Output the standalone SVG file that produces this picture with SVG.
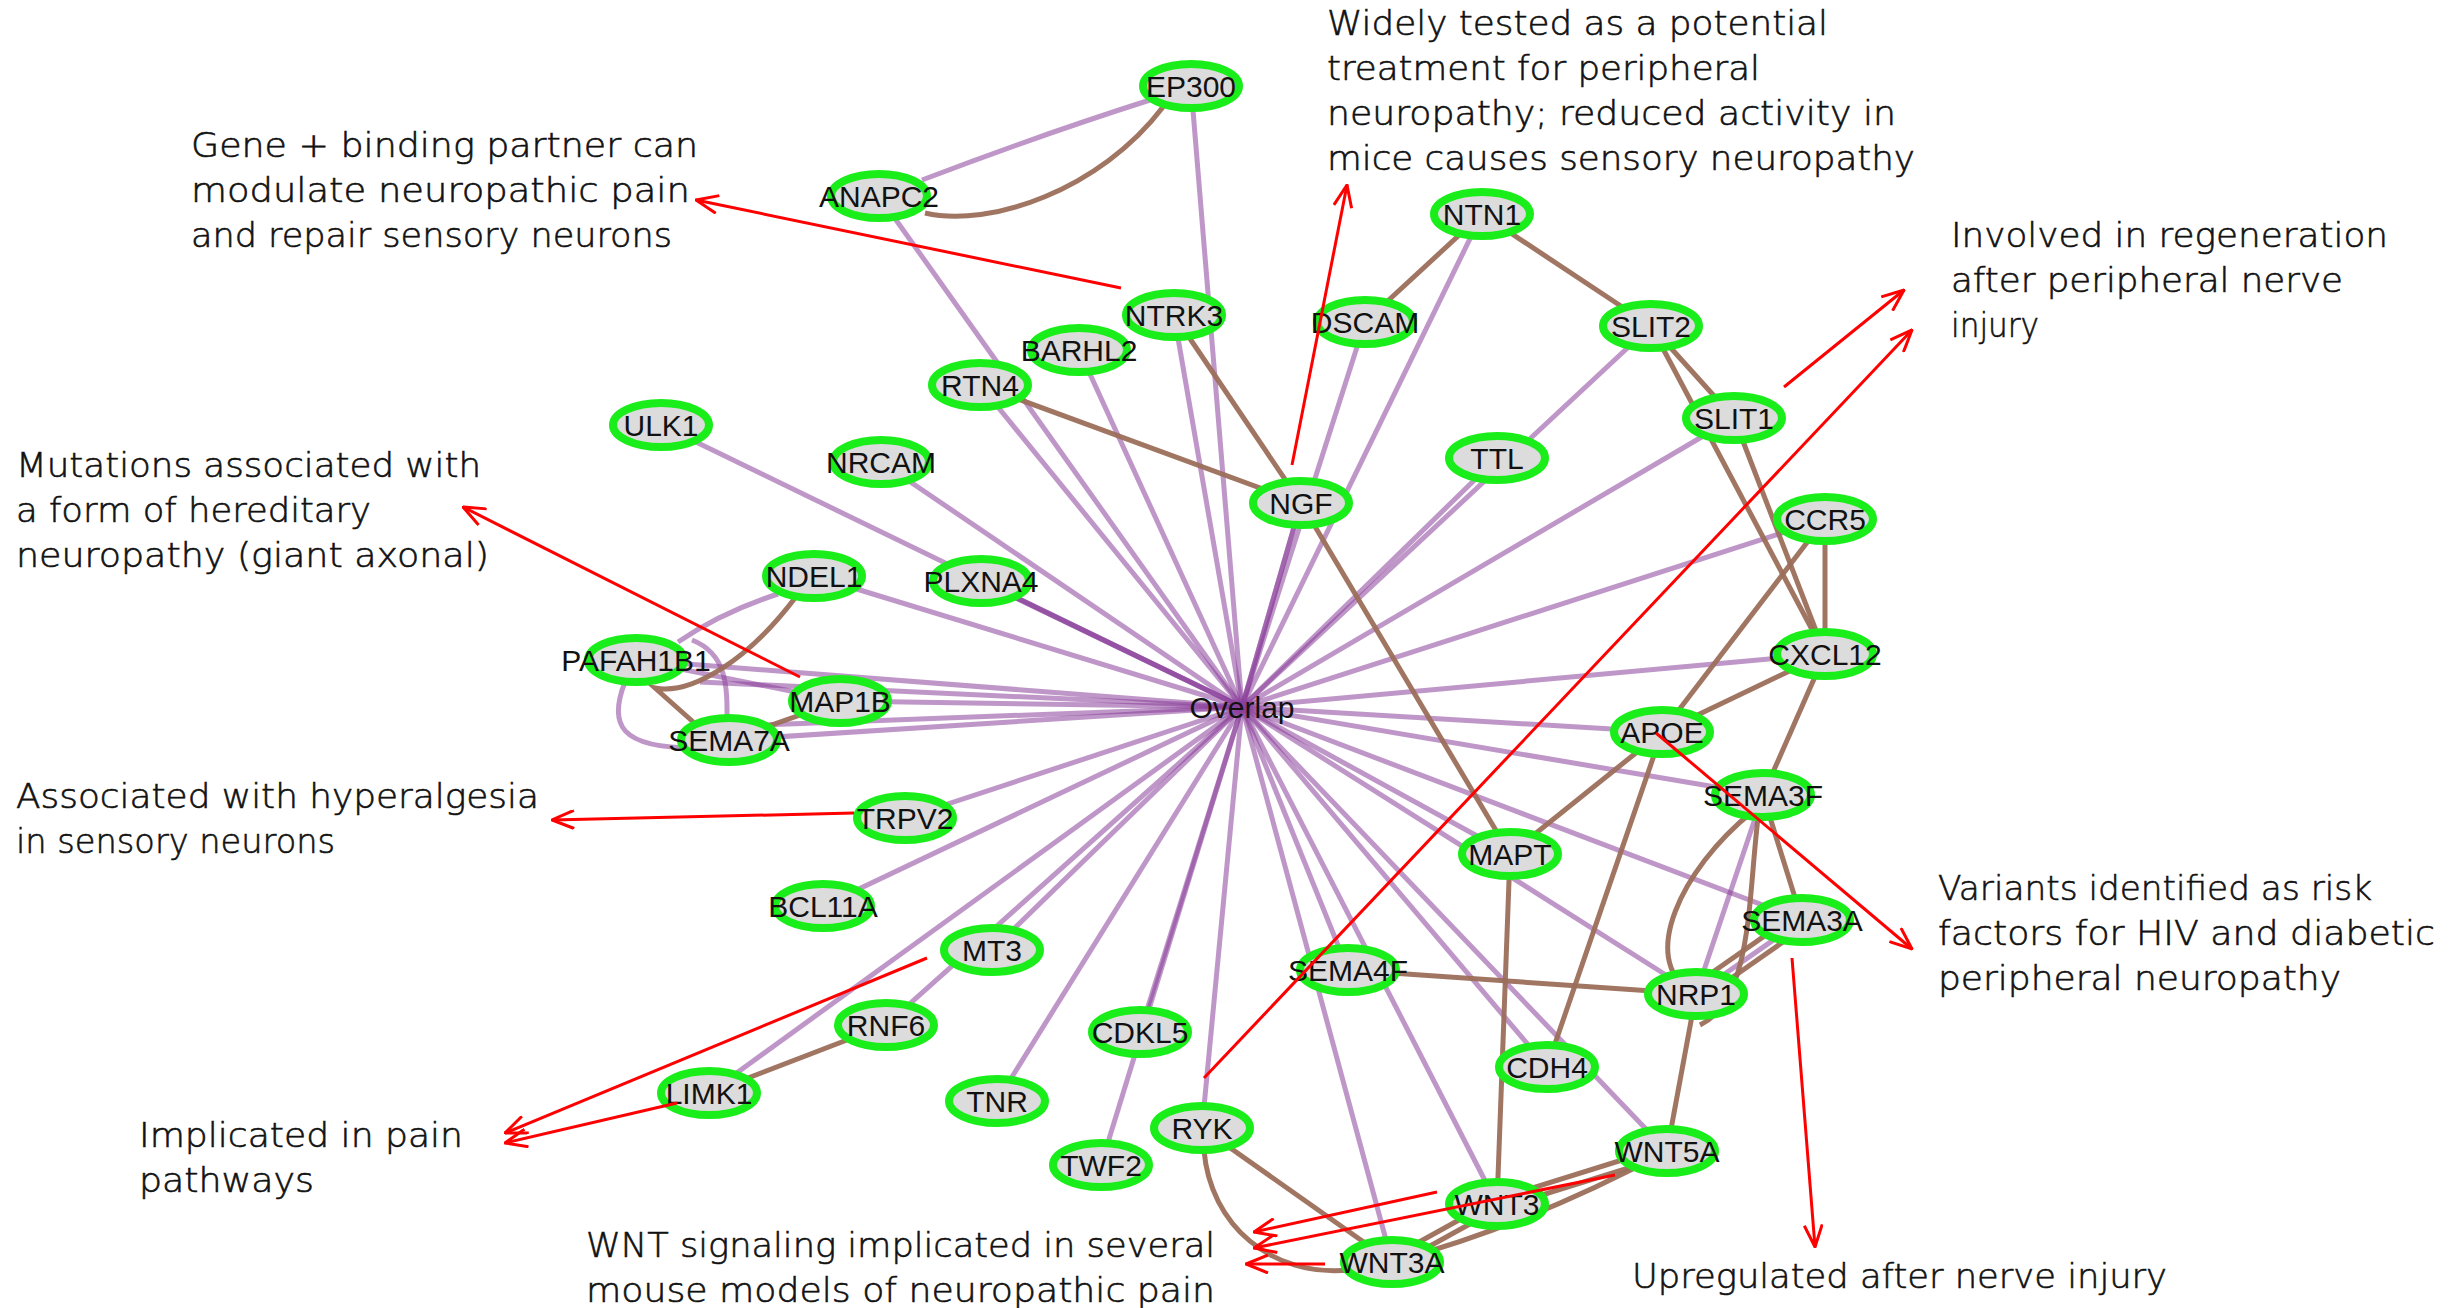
<svg xmlns="http://www.w3.org/2000/svg" width="2458" height="1308" viewBox="0 0 2458 1308">
<style>
.p{stroke:#8a3f9b;stroke-opacity:0.55;stroke-width:5;fill:none}
.b{stroke:#9b6e5a;stroke-opacity:0.95;stroke-width:5;fill:none}
.node ellipse{fill:#dcdcdc;stroke:#1aee1a;stroke-width:8}
.node text{font-family:"Liberation Sans",Arial,sans-serif;font-size:30px;fill:#111;text-anchor:middle}
.ov{font-family:"Liberation Sans",Arial,sans-serif;font-size:30px;fill:#111;text-anchor:middle}
.ann{font-family:"DejaVu Sans","Liberation Sans",sans-serif;font-weight:200;font-size:34px;fill:#111;stroke:#111;stroke-width:0.6}
.r{stroke:#ff0000;stroke-width:3;fill:none;marker-end:url(#ah)}
</style>
<defs>
<marker id="ah" viewBox="0 0 24 20" refX="23" refY="10" markerWidth="24" markerHeight="20" markerUnits="userSpaceOnUse" orient="auto">
<path d="M1,1 L23,10 L1,19" fill="none" stroke="#ff0000" stroke-width="3"/>
</marker>
</defs>
<rect width="2458" height="1308" fill="#ffffff"/>
<g id="connectors">
<g id="overlap-edges">
<line class="p" x1="1242" y1="707" x2="1191" y2="86"/>
<line class="p" x1="1242" y1="707" x2="879" y2="196"/>
<line class="p" x1="1242" y1="707" x2="1174" y2="315"/>
<line class="p" x1="1242" y1="707" x2="1079" y2="350"/>
<line class="p" x1="1242" y1="707" x2="980" y2="385"/>
<line class="p" x1="1242" y1="707" x2="1365" y2="322"/>
<line class="p" x1="1242" y1="707" x2="1482" y2="214"/>
<line class="p" x1="1242" y1="707" x2="1651" y2="326"/>
<line class="p" x1="1242" y1="707" x2="1497" y2="458"/>
<line class="p" x1="1242" y1="707" x2="1734" y2="418"/>
<line class="p" x1="1242" y1="707" x2="1825" y2="519"/>
<line class="p" x1="1242" y1="707" x2="1825" y2="654"/>
<line class="p" x1="1242" y1="707" x2="1662" y2="732"/>
<line class="p" x1="1242" y1="707" x2="1763" y2="795"/>
<line class="p" x1="1242" y1="707" x2="1802" y2="920"/>
<line class="p" x1="1242" y1="707" x2="1696" y2="994"/>
<line class="p" x1="1242" y1="707" x2="1667" y2="1151"/>
<line class="p" x1="1242" y1="707" x2="1547" y2="1067"/>
<line class="p" x1="1242" y1="707" x2="1497" y2="1204"/>
<line class="p" x1="1242" y1="707" x2="1392" y2="1262"/>
<line class="p" x1="1242" y1="707" x2="1348" y2="970"/>
<line class="p" x1="1242" y1="707" x2="1510" y2="854"/>
<line class="p" x1="1242" y1="707" x2="1202" y2="1128"/>
<line class="p" x1="1242" y1="707" x2="1140" y2="1032"/>
<line class="p" x1="1242" y1="707" x2="1101" y2="1165"/>
<line class="p" x1="1242" y1="707" x2="997" y2="1101"/>
<line class="p" x1="1242" y1="707" x2="886" y2="1025"/>
<line class="p" x1="1242" y1="707" x2="992" y2="950"/>
<line class="p" x1="1242" y1="707" x2="709" y2="1093"/>
<line class="p" x1="1242" y1="707" x2="823" y2="906"/>
<line class="p" x1="1242" y1="707" x2="905" y2="818"/>
<line class="p" x1="1242" y1="707" x2="729" y2="740"/>
<line class="p" x1="1242" y1="707" x2="760" y2="725"/>
<line class="p" x1="1242" y1="707" x2="840" y2="701"/>
<line class="p" x1="1242" y1="707" x2="700" y2="682"/>
<line class="p" x1="1242" y1="707" x2="636" y2="660"/>
<line class="p" x1="1242" y1="707" x2="814" y2="576"/>
<line class="p" x1="1242" y1="707" x2="981" y2="581"/>
<line class="p" x1="1242" y1="707" x2="981" y2="581"/>
<line class="p" x1="1242" y1="707" x2="881" y2="462"/>
<line class="p" x1="1242" y1="707" x2="661" y2="425"/>
<line class="p" x1="1242" y1="707" x2="1301" y2="503"/>
<line class="p" x1="1242" y1="707" x2="1301" y2="503"/>
</g>
<g id="gene-edges-purple">
<path class="p" d="M922 180 Q1040 135 1150 100"/>
<path class="p" d="M778 594 Q722 612 678 642"/>
<line class="p" x1="636" y1="660" x2="840" y2="701"/>
<path class="p" d="M625 682 C608 725 620 748 695 748"/>
<path class="p" d="M692 640 C730 655 727 692 727 728"/>
<line class="p" x1="1763" y1="795" x2="1696" y2="994"/>
<line class="p" x1="1802" y1="920" x2="1696" y2="994"/>
</g>
<g id="gene-edges-brown">
<path class="b" d="M925 213 C990 228 1100 190 1163 107"/>
<line class="b" x1="1174" y1="315" x2="1301" y2="503"/>
<line class="b" x1="980" y1="385" x2="1301" y2="503"/>
<line class="b" x1="1482" y1="214" x2="1365" y2="322"/>
<line class="b" x1="1482" y1="214" x2="1651" y2="326"/>
<line class="b" x1="1651" y1="326" x2="1734" y2="418"/>
<line class="b" x1="1651" y1="326" x2="1825" y2="654"/>
<line class="b" x1="1734" y1="418" x2="1825" y2="654"/>
<line class="b" x1="1825" y1="519" x2="1825" y2="654"/>
<line class="b" x1="1825" y1="519" x2="1662" y2="732"/>
<line class="b" x1="1825" y1="654" x2="1662" y2="732"/>
<line class="b" x1="1825" y1="654" x2="1763" y2="795"/>
<line class="b" x1="1662" y1="732" x2="1510" y2="854"/>
<line class="b" x1="1662" y1="732" x2="1547" y2="1067"/>
<line class="b" x1="1301" y1="503" x2="1510" y2="854"/>
<line class="b" x1="1510" y1="854" x2="1497" y2="1204"/>
<line class="b" x1="1348" y1="970" x2="1696" y2="994"/>
<path class="b" d="M1752 812 C1680 870 1640 960 1690 990"/>
<path class="b" d="M1758 818 C1748 900 1752 1000 1700 1025"/>
<line class="b" x1="1763" y1="795" x2="1802" y2="920"/>
<line class="b" x1="1806" y1="926" x2="1700" y2="1000"/>
<line class="b" x1="1796" y1="914" x2="1690" y2="988"/>
<line class="b" x1="1696" y1="994" x2="1667" y2="1151"/>
<line class="b" x1="1667" y1="1146" x2="1497" y2="1199"/>
<line class="b" x1="1667" y1="1156" x2="1497" y2="1209"/>
<path class="b" d="M1667 1151 Q1530 1225 1392 1262"/>
<line class="b" x1="1497" y1="1199" x2="1392" y2="1257"/>
<line class="b" x1="1497" y1="1209" x2="1392" y2="1267"/>
<line class="b" x1="1202" y1="1128" x2="1392" y2="1262"/>
<path class="b" d="M1204 1150 C1210 1225 1272 1278 1350 1270"/>
<line class="b" x1="709" y1="1093" x2="886" y2="1025"/>
<path class="b" d="M795 598 C748 660 692 695 655 688 L700 728"/>
<line class="b" x1="840" y1="701" x2="729" y2="740"/>
</g>
</g>
<g id="nodes">
<g id="n-EP300" class="node" transform="translate(1191,86)"><ellipse rx="48" ry="22"/><text y="11">EP300</text></g>
<g id="n-ANAPC2" class="node" transform="translate(879,196)"><ellipse rx="48" ry="22"/><text y="11">ANAPC2</text></g>
<g id="n-NTRK3" class="node" transform="translate(1174,315)"><ellipse rx="48" ry="22"/><text y="11">NTRK3</text></g>
<g id="n-BARHL2" class="node" transform="translate(1079,350)"><ellipse rx="48" ry="22"/><text y="11">BARHL2</text></g>
<g id="n-RTN4" class="node" transform="translate(980,385)"><ellipse rx="48" ry="22"/><text y="11">RTN4</text></g>
<g id="n-DSCAM" class="node" transform="translate(1365,322)"><ellipse rx="48" ry="22"/><text y="11">DSCAM</text></g>
<g id="n-NTN1" class="node" transform="translate(1482,214)"><ellipse rx="48" ry="22"/><text y="11">NTN1</text></g>
<g id="n-SLIT2" class="node" transform="translate(1651,326)"><ellipse rx="48" ry="22"/><text y="11">SLIT2</text></g>
<g id="n-SLIT1" class="node" transform="translate(1734,418)"><ellipse rx="48" ry="22"/><text y="11">SLIT1</text></g>
<g id="n-ULK1" class="node" transform="translate(661,425)"><ellipse rx="48" ry="22"/><text y="11">ULK1</text></g>
<g id="n-NRCAM" class="node" transform="translate(881,462)"><ellipse rx="48" ry="22"/><text y="11">NRCAM</text></g>
<g id="n-NGF" class="node" transform="translate(1301,503)"><ellipse rx="48" ry="22"/><text y="11">NGF</text></g>
<g id="n-TTL" class="node" transform="translate(1497,458)"><ellipse rx="48" ry="22"/><text y="11">TTL</text></g>
<g id="n-CCR5" class="node" transform="translate(1825,519)"><ellipse rx="48" ry="22"/><text y="11">CCR5</text></g>
<g id="n-NDEL1" class="node" transform="translate(814,576)"><ellipse rx="48" ry="22"/><text y="11">NDEL1</text></g>
<g id="n-PLXNA4" class="node" transform="translate(981,581)"><ellipse rx="48" ry="22"/><text y="11">PLXNA4</text></g>
<g id="n-PAFAH1B1" class="node" transform="translate(636,660)"><ellipse rx="48" ry="22"/><text y="11">PAFAH1B1</text></g>
<g id="n-MAP1B" class="node" transform="translate(840,701)"><ellipse rx="48" ry="22"/><text y="11">MAP1B</text></g>
<g id="n-SEMA7A" class="node" transform="translate(729,740)"><ellipse rx="48" ry="22"/><text y="11">SEMA7A</text></g>
<g id="n-CXCL12" class="node" transform="translate(1825,654)"><ellipse rx="48" ry="22"/><text y="11">CXCL12</text></g>
<g id="n-APOE" class="node" transform="translate(1662,732)"><ellipse rx="48" ry="22"/><text y="11">APOE</text></g>
<g id="n-SEMA3F" class="node" transform="translate(1763,795)"><ellipse rx="48" ry="22"/><text y="11">SEMA3F</text></g>
<g id="n-TRPV2" class="node" transform="translate(905,818)"><ellipse rx="48" ry="22"/><text y="11">TRPV2</text></g>
<g id="n-MAPT" class="node" transform="translate(1510,854)"><ellipse rx="48" ry="22"/><text y="11">MAPT</text></g>
<g id="n-BCL11A" class="node" transform="translate(823,906)"><ellipse rx="48" ry="22"/><text y="11">BCL11A</text></g>
<g id="n-SEMA3A" class="node" transform="translate(1802,920)"><ellipse rx="48" ry="22"/><text y="11">SEMA3A</text></g>
<g id="n-MT3" class="node" transform="translate(992,950)"><ellipse rx="48" ry="22"/><text y="11">MT3</text></g>
<g id="n-SEMA4F" class="node" transform="translate(1348,970)"><ellipse rx="48" ry="22"/><text y="11">SEMA4F</text></g>
<g id="n-NRP1" class="node" transform="translate(1696,994)"><ellipse rx="48" ry="22"/><text y="11">NRP1</text></g>
<g id="n-RNF6" class="node" transform="translate(886,1025)"><ellipse rx="48" ry="22"/><text y="11">RNF6</text></g>
<g id="n-CDKL5" class="node" transform="translate(1140,1032)"><ellipse rx="48" ry="22"/><text y="11">CDKL5</text></g>
<g id="n-CDH4" class="node" transform="translate(1547,1067)"><ellipse rx="48" ry="22"/><text y="11">CDH4</text></g>
<g id="n-LIMK1" class="node" transform="translate(709,1093)"><ellipse rx="48" ry="22"/><text y="11">LIMK1</text></g>
<g id="n-TNR" class="node" transform="translate(997,1101)"><ellipse rx="48" ry="22"/><text y="11">TNR</text></g>
<g id="n-RYK" class="node" transform="translate(1202,1128)"><ellipse rx="48" ry="22"/><text y="11">RYK</text></g>
<g id="n-TWF2" class="node" transform="translate(1101,1165)"><ellipse rx="48" ry="22"/><text y="11">TWF2</text></g>
<g id="n-WNT5A" class="node" transform="translate(1667,1151)"><ellipse rx="48" ry="22"/><text y="11">WNT5A</text></g>
<g id="n-WNT3" class="node" transform="translate(1497,1204)"><ellipse rx="48" ry="22"/><text y="11">WNT3</text></g>
<g id="n-WNT3A" class="node" transform="translate(1392,1262)"><ellipse rx="48" ry="22"/><text y="11">WNT3A</text></g>
<g id="n-Overlap"><text class="ov" x="1242" y="718">Overlap</text></g>
</g>
<g id="annotations">
<g id="ann-binding">
<text class="ann" x="191" y="157" textLength="507" lengthAdjust="spacingAndGlyphs">Gene + binding partner can</text>
<text class="ann" x="191" y="202" textLength="499" lengthAdjust="spacingAndGlyphs">modulate neuropathic pain</text>
<text class="ann" x="191" y="247" textLength="481" lengthAdjust="spacingAndGlyphs">and repair sensory neurons</text>
<line class="r" x1="1121" y1="288" x2="696" y2="200"/>
</g>
<g id="ann-widely">
<text class="ann" x="1327" y="35" textLength="501" lengthAdjust="spacingAndGlyphs">Widely tested as a potential</text>
<text class="ann" x="1327" y="80" textLength="433" lengthAdjust="spacingAndGlyphs">treatment for peripheral</text>
<text class="ann" x="1327" y="125" textLength="569" lengthAdjust="spacingAndGlyphs">neuropathy; reduced activity in</text>
<text class="ann" x="1327" y="170" textLength="588" lengthAdjust="spacingAndGlyphs">mice causes sensory neuropathy</text>
<line class="r" x1="1292" y1="465" x2="1347" y2="185"/>
</g>
<g id="ann-regeneration">
<text class="ann" x="1951" y="247" textLength="437" lengthAdjust="spacingAndGlyphs">Involved in regeneration</text>
<text class="ann" x="1951" y="292" textLength="392" lengthAdjust="spacingAndGlyphs">after peripheral nerve</text>
<text class="ann" x="1951" y="337" textLength="88" lengthAdjust="spacingAndGlyphs">injury</text>
<line class="r" x1="1784" y1="387" x2="1904" y2="290"/>
<line class="r" x1="1204" y1="1078" x2="1912" y2="330"/>
</g>
<g id="ann-mutations">
<text class="ann" x="16" y="477" textLength="465" lengthAdjust="spacingAndGlyphs">Mutations associated with</text>
<text class="ann" x="16" y="522" textLength="355" lengthAdjust="spacingAndGlyphs">a form of hereditary</text>
<text class="ann" x="16" y="567" textLength="473" lengthAdjust="spacingAndGlyphs">neuropathy (giant axonal)</text>
<line class="r" x1="800" y1="677" x2="463" y2="507"/>
</g>
<g id="ann-hyperalgesia">
<text class="ann" x="16" y="808" textLength="523" lengthAdjust="spacingAndGlyphs">Associated with hyperalgesia</text>
<text class="ann" x="16" y="853" textLength="319" lengthAdjust="spacingAndGlyphs">in sensory neurons</text>
<line class="r" x1="854" y1="813" x2="552" y2="820"/>
</g>
<g id="ann-pain">
<text class="ann" x="139" y="1147" textLength="324" lengthAdjust="spacingAndGlyphs">Implicated in pain</text>
<text class="ann" x="139" y="1192" textLength="175" lengthAdjust="spacingAndGlyphs">pathways</text>
<line class="r" x1="927" y1="958" x2="505" y2="1133"/>
<line class="r" x1="677" y1="1103" x2="505" y2="1143"/>
</g>
<g id="ann-wnt">
<text class="ann" x="586" y="1257" textLength="629" lengthAdjust="spacingAndGlyphs">WNT signaling implicated in several</text>
<text class="ann" x="586" y="1302" textLength="629" lengthAdjust="spacingAndGlyphs">mouse models of neuropathic pain</text>
<line class="r" x1="1437" y1="1192" x2="1254" y2="1232"/>
<line class="r" x1="1615" y1="1175" x2="1254" y2="1248"/>
<line class="r" x1="1325" y1="1264" x2="1246" y2="1264"/>
</g>
<g id="ann-variants">
<text class="ann" x="1938" y="900" textLength="434" lengthAdjust="spacingAndGlyphs">Variants identified as risk</text>
<text class="ann" x="1938" y="945" textLength="497" lengthAdjust="spacingAndGlyphs">factors for HIV and diabetic</text>
<text class="ann" x="1938" y="990" textLength="403" lengthAdjust="spacingAndGlyphs">peripheral neuropathy</text>
<line class="r" x1="1656" y1="733" x2="1912" y2="949"/>
</g>
<g id="ann-upregulated">
<text class="ann" x="1632" y="1288" textLength="535" lengthAdjust="spacingAndGlyphs">Upregulated after nerve injury</text>
<line class="r" x1="1792" y1="958" x2="1815" y2="1247"/>
</g>
</g>
</svg>
